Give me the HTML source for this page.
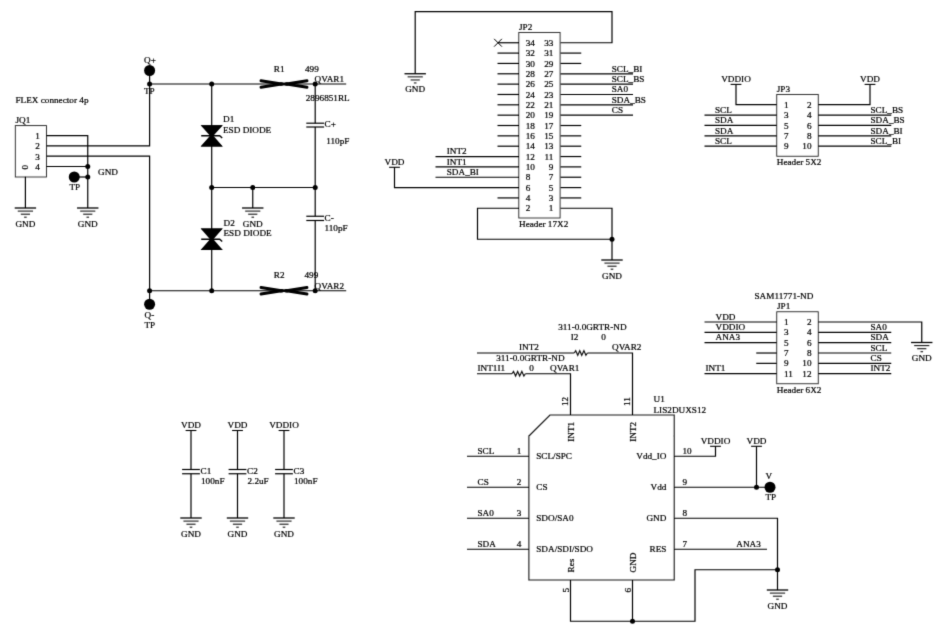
<!DOCTYPE html>
<html><head><meta charset="utf-8"><title>Schematic</title>
<style>
html,body{margin:0;padding:0;background:#fff;}
body{width:949px;height:642px;overflow:hidden;}
svg{display:block;}
svg text{font-family:"Liberation Serif",serif;font-size:9.2px;fill:#000;stroke:#000;stroke-width:0.22px;}
</style></head><body>
<svg width="949" height="642" viewBox="0 0 949 642">
<defs><filter id="soft" x="0" y="0" width="949" height="642" filterUnits="userSpaceOnUse"><feConvolveMatrix order="3" kernelMatrix="0.0144 0.0912 0.0144 0.0912 0.5776 0.0912 0.0144 0.0912 0.0144" divisor="1" edgeMode="none" preserveAlpha="false"/></filter></defs>
<rect width="949" height="642" fill="#fff"/>
<g filter="url(#soft)">
<text x="15.5" y="103">FLEX connector 4p</text>
<text x="15.5" y="123.3">JQ1</text>
<rect x="15.3" y="125.6" width="31.2" height="51.400000000000006" fill="none" stroke="#222" stroke-width="0.9"/>
<text x="35.3" y="139.1">1</text>
<text x="35.3" y="149.4">2</text>
<text x="35.3" y="159.7">3</text>
<text x="35.3" y="170.0">4</text>
<text x="27.6" y="169.6" transform="rotate(-90 27.6 169.6)">0</text>
<line x1="46.5" y1="135.6" x2="87.75" y2="135.6" stroke="#000" stroke-width="1.2"/>
<line x1="46.5" y1="166.5" x2="87.75" y2="166.5" stroke="#000" stroke-width="1.2"/>
<line x1="87.75" y1="135.1" x2="87.75" y2="208" stroke="#000" stroke-width="1.2"/>
<polyline points="46.5,145.9 149.6,145.9 149.6,84" fill="none" stroke="#000" stroke-width="1.2" />
<polyline points="46.5,156.2 149.6,156.2 149.6,290.75" fill="none" stroke="#000" stroke-width="1.2" />
<circle cx="87.75" cy="166.5" r="2.5" fill="#000"/>
<circle cx="87.75" cy="177" r="2.5" fill="#000"/>
<line x1="74.25" y1="177" x2="87.75" y2="177" stroke="#000" stroke-width="1.2"/>
<circle cx="74.25" cy="177" r="5.5" fill="#000"/>
<text x="69.5" y="190">TP</text>
<text x="98" y="175">GND</text>
<line x1="25.4" y1="176.7" x2="25.4" y2="208" stroke="#000" stroke-width="1.2"/>
<line x1="14.7" y1="208" x2="36.099999999999994" y2="208" stroke="#000" stroke-width="1.3"/>
<line x1="17.799999999999997" y1="211.1" x2="33.0" y2="211.1" stroke="#222" stroke-width="1.15"/>
<line x1="20.799999999999997" y1="214.2" x2="30.0" y2="214.2" stroke="#222" stroke-width="1.15"/>
<line x1="24.099999999999998" y1="217.2" x2="26.7" y2="217.2" stroke="#222" stroke-width="1.15"/>
<text x="25.4" y="226.6" text-anchor="middle">GND</text>
<line x1="77.05" y1="208" x2="98.45" y2="208" stroke="#000" stroke-width="1.3"/>
<line x1="80.15" y1="211.1" x2="95.35" y2="211.1" stroke="#222" stroke-width="1.15"/>
<line x1="83.15" y1="214.2" x2="92.35" y2="214.2" stroke="#222" stroke-width="1.15"/>
<line x1="86.45" y1="217.2" x2="89.05" y2="217.2" stroke="#222" stroke-width="1.15"/>
<text x="87.75" y="226.6" text-anchor="middle">GND</text>
<text x="144" y="62.5">Q+</text>
<circle cx="149.6" cy="70.5" r="5.5" fill="#000"/>
<line x1="149.6" y1="70.5" x2="149.6" y2="84" stroke="#000" stroke-width="1.2"/>
<circle cx="149.6" cy="84" r="2.5" fill="#000"/>
<text x="144" y="93.5">TP</text>
<line x1="149.6" y1="84" x2="346.2" y2="84" stroke="#000" stroke-width="1.2"/>
<circle cx="211.7" cy="84" r="2.5" fill="#000"/>
<circle cx="315.2" cy="84" r="2.5" fill="#000"/>
<line x1="211.7" y1="84" x2="211.7" y2="290.75" stroke="#000" stroke-width="1.2"/>
<polygon points="200.7,125.2 222.7,125.2 211.7,136.29999999999998 222.7,146.4 200.7,146.4 211.7,135.1" fill="#000"/>
<polygon points="200.7,125.2 222.7,125.2 213.39999999999998,135.7 222.7,146.4 200.7,146.4 210.0,135.7" fill="#000"/>
<polyline points="201.2,135.7 219.7,135.7 222.2,138.0" fill="none" stroke="#000" stroke-width="1.4" />
<polygon points="200.7,228.5 222.7,228.5 211.7,239.79999999999998 222.7,249.9 200.7,249.9 211.7,238.6" fill="#000"/>
<polygon points="200.7,228.5 222.7,228.5 213.39999999999998,239.2 222.7,249.9 200.7,249.9 210.0,239.2" fill="#000"/>
<polyline points="201.2,239.2 219.7,239.2 222.2,241.5" fill="none" stroke="#000" stroke-width="1.4" />
<text x="223" y="121.75">D1</text>
<text x="223" y="132.5">ESD DIODE</text>
<text x="223.5" y="225.75">D2</text>
<text x="223.5" y="235.75">ESD DIODE</text>
<circle cx="211.7" cy="187.5" r="2.5" fill="#000"/>
<circle cx="252.75" cy="187.5" r="2.5" fill="#000"/>
<circle cx="315.2" cy="187.5" r="2.5" fill="#000"/>
<line x1="211.7" y1="187.5" x2="315.2" y2="187.5" stroke="#000" stroke-width="1.2"/>
<line x1="252.75" y1="187.5" x2="252.75" y2="208" stroke="#000" stroke-width="1.2"/>
<line x1="242.05" y1="208" x2="263.45" y2="208" stroke="#000" stroke-width="1.3"/>
<line x1="245.15" y1="211.1" x2="260.35" y2="211.1" stroke="#222" stroke-width="1.15"/>
<line x1="248.15" y1="214.2" x2="257.35" y2="214.2" stroke="#222" stroke-width="1.15"/>
<line x1="251.45" y1="217.2" x2="254.05" y2="217.2" stroke="#222" stroke-width="1.15"/>
<text x="252.75" y="226.6" text-anchor="middle">GND</text>
<line x1="315.2" y1="84" x2="315.2" y2="123.2" stroke="#000" stroke-width="1.2"/>
<line x1="315.2" y1="127" x2="315.2" y2="216.25" stroke="#000" stroke-width="1.2"/>
<line x1="315.2" y1="220.5" x2="315.2" y2="290.75" stroke="#000" stroke-width="1.2"/>
<line x1="306.3" y1="123.2" x2="324.09999999999997" y2="123.2" stroke="#000" stroke-width="1.2"/>
<line x1="306.3" y1="127.0" x2="324.09999999999997" y2="127.0" stroke="#000" stroke-width="1.2"/>
<line x1="306.3" y1="216.25" x2="324.09999999999997" y2="216.25" stroke="#000" stroke-width="1.2"/>
<line x1="306.3" y1="220.5" x2="324.09999999999997" y2="220.5" stroke="#000" stroke-width="1.2"/>
<text x="324.5" y="127.0">C+</text>
<text x="326.25" y="143.75">110pF</text>
<text x="324.5" y="220.5">C-</text>
<text x="324.5" y="230.75">110pF</text>
<polyline points="261,80.7 281.4,84 261,87.3" fill="none" stroke="#000" stroke-width="2.9" stroke-linecap="round" stroke-linejoin="round"/>
<polyline points="307,80.7 286.6,84 307,87.3" fill="none" stroke="#000" stroke-width="2.9" stroke-linecap="round" stroke-linejoin="round"/>
<polyline points="280.6,84 282.4,84" fill="none" stroke="#000" stroke-width="3.4" stroke-linecap="round" stroke-linejoin="round"/>
<polyline points="285.6,84 287.4,84" fill="none" stroke="#000" stroke-width="3.4" stroke-linecap="round" stroke-linejoin="round"/>
<polyline points="283.0,84 285.0,84" fill="none" stroke="#000" stroke-width="2.6" />
<polyline points="261,287.45 281.4,290.75 261,294.05" fill="none" stroke="#000" stroke-width="2.9" stroke-linecap="round" stroke-linejoin="round"/>
<polyline points="307,287.45 286.6,290.75 307,294.05" fill="none" stroke="#000" stroke-width="2.9" stroke-linecap="round" stroke-linejoin="round"/>
<polyline points="280.6,290.75 282.4,290.75" fill="none" stroke="#000" stroke-width="3.4" stroke-linecap="round" stroke-linejoin="round"/>
<polyline points="285.6,290.75 287.4,290.75" fill="none" stroke="#000" stroke-width="3.4" stroke-linecap="round" stroke-linejoin="round"/>
<polyline points="283.0,290.75 285.0,290.75" fill="none" stroke="#000" stroke-width="2.6" />
<text x="273.75" y="71.75">R1</text>
<text x="305" y="71.75">499</text>
<text x="314.6" y="82">QVAR1</text>
<text x="305.75" y="100.75">2896851RL</text>
<text x="273.75" y="278">R2</text>
<text x="304.5" y="278">499</text>
<text x="314.6" y="289.25">QVAR2</text>
<line x1="149.6" y1="290.75" x2="346.2" y2="290.75" stroke="#000" stroke-width="1.2"/>
<circle cx="149.6" cy="290.75" r="2.5" fill="#000"/>
<circle cx="211.7" cy="290.75" r="2.5" fill="#000"/>
<circle cx="315.2" cy="290.75" r="2.5" fill="#000"/>
<line x1="149.6" y1="290.75" x2="149.6" y2="304.25" stroke="#000" stroke-width="1.2"/>
<circle cx="149.6" cy="304.25" r="5.5" fill="#000"/>
<text x="144.5" y="317.5">Q-</text>
<text x="144.5" y="327.5">TP</text>
<text x="519" y="30">JP2</text>
<rect x="518.8" y="32.5" width="41.30000000000007" height="185.5" fill="none" stroke="#222" stroke-width="0.9"/>
<text x="525.75" y="45.85">34</text>
<text x="553.4" y="45.85" text-anchor="end">33</text>
<text x="525.75" y="56.195">32</text>
<text x="553.4" y="56.195" text-anchor="end">31</text>
<text x="525.75" y="66.53999999999999">30</text>
<text x="553.4" y="66.53999999999999" text-anchor="end">29</text>
<text x="525.75" y="76.88499999999999">28</text>
<text x="553.4" y="76.88499999999999" text-anchor="end">27</text>
<text x="525.75" y="87.22999999999999">26</text>
<text x="553.4" y="87.22999999999999" text-anchor="end">25</text>
<text x="525.75" y="97.57499999999999">24</text>
<text x="553.4" y="97.57499999999999" text-anchor="end">23</text>
<text x="525.75" y="107.92">22</text>
<text x="553.4" y="107.92" text-anchor="end">21</text>
<text x="525.75" y="118.265">20</text>
<text x="553.4" y="118.265" text-anchor="end">19</text>
<text x="525.75" y="128.61">18</text>
<text x="553.4" y="128.61" text-anchor="end">17</text>
<text x="525.75" y="138.955">16</text>
<text x="553.4" y="138.955" text-anchor="end">15</text>
<text x="525.75" y="149.29999999999998">14</text>
<text x="553.4" y="149.29999999999998" text-anchor="end">13</text>
<text x="525.75" y="159.645">12</text>
<text x="553.4" y="159.645" text-anchor="end">11</text>
<text x="525.75" y="169.99">10</text>
<text x="553.4" y="169.99" text-anchor="end">9</text>
<text x="525.75" y="180.335">8</text>
<text x="553.4" y="180.335" text-anchor="end">7</text>
<text x="525.75" y="190.68">6</text>
<text x="553.4" y="190.68" text-anchor="end">5</text>
<text x="525.75" y="201.025">4</text>
<text x="553.4" y="201.025" text-anchor="end">3</text>
<text x="525.75" y="211.37">2</text>
<text x="553.4" y="211.37" text-anchor="end">1</text>
<line x1="497.5" y1="53.095" x2="519" y2="53.095" stroke="#000" stroke-width="1.2"/>
<line x1="497.5" y1="63.44" x2="519" y2="63.44" stroke="#000" stroke-width="1.2"/>
<line x1="497.5" y1="73.785" x2="519" y2="73.785" stroke="#000" stroke-width="1.2"/>
<line x1="497.5" y1="84.13" x2="519" y2="84.13" stroke="#000" stroke-width="1.2"/>
<line x1="497.5" y1="94.475" x2="519" y2="94.475" stroke="#000" stroke-width="1.2"/>
<line x1="497.5" y1="104.82000000000001" x2="519" y2="104.82000000000001" stroke="#000" stroke-width="1.2"/>
<line x1="497.5" y1="115.165" x2="519" y2="115.165" stroke="#000" stroke-width="1.2"/>
<line x1="497.5" y1="125.51" x2="519" y2="125.51" stroke="#000" stroke-width="1.2"/>
<line x1="497.5" y1="135.85500000000002" x2="519" y2="135.85500000000002" stroke="#000" stroke-width="1.2"/>
<line x1="497.5" y1="146.2" x2="519" y2="146.2" stroke="#000" stroke-width="1.2"/>
<line x1="497.5" y1="197.925" x2="519" y2="197.925" stroke="#000" stroke-width="1.2"/>
<line x1="498" y1="42.75" x2="519" y2="42.75" stroke="#000" stroke-width="1.2"/>
<line x1="494.1" y1="38.85" x2="501.9" y2="46.65" stroke="#000" stroke-width="1.0"/>
<line x1="494.1" y1="46.65" x2="501.9" y2="38.85" stroke="#000" stroke-width="1.0"/>
<line x1="560.5" y1="53.095" x2="581.25" y2="53.095" stroke="#000" stroke-width="1.2"/>
<line x1="560.5" y1="63.44" x2="581.25" y2="63.44" stroke="#000" stroke-width="1.2"/>
<line x1="560.5" y1="125.51" x2="581.25" y2="125.51" stroke="#000" stroke-width="1.2"/>
<line x1="560.5" y1="135.85500000000002" x2="581.25" y2="135.85500000000002" stroke="#000" stroke-width="1.2"/>
<line x1="560.5" y1="146.2" x2="581.25" y2="146.2" stroke="#000" stroke-width="1.2"/>
<line x1="560.5" y1="156.54500000000002" x2="581.25" y2="156.54500000000002" stroke="#000" stroke-width="1.2"/>
<line x1="560.5" y1="166.89000000000001" x2="581.25" y2="166.89000000000001" stroke="#000" stroke-width="1.2"/>
<line x1="560.5" y1="177.235" x2="581.25" y2="177.235" stroke="#000" stroke-width="1.2"/>
<line x1="560.5" y1="187.58" x2="581.25" y2="187.58" stroke="#000" stroke-width="1.2"/>
<line x1="560.5" y1="197.925" x2="581.25" y2="197.925" stroke="#000" stroke-width="1.2"/>
<line x1="560.5" y1="73.785" x2="633" y2="73.785" stroke="#000" stroke-width="1.2"/>
<text x="611.75" y="71.585">SCL_BI</text>
<line x1="560.5" y1="84.13" x2="633" y2="84.13" stroke="#000" stroke-width="1.2"/>
<text x="611.75" y="81.92999999999999">SCL_BS</text>
<line x1="560.5" y1="94.475" x2="633" y2="94.475" stroke="#000" stroke-width="1.2"/>
<text x="611.75" y="92.27499999999999">SA0</text>
<line x1="560.5" y1="104.82000000000001" x2="633" y2="104.82000000000001" stroke="#000" stroke-width="1.2"/>
<text x="611.75" y="102.62">SDA_BS</text>
<line x1="560.5" y1="115.165" x2="633" y2="115.165" stroke="#000" stroke-width="1.2"/>
<text x="611.75" y="112.965">CS</text>
<polyline points="560.5,42.75 612,42.75 612,11.6 415.2,11.6 415.2,73.75" fill="none" stroke="#000" stroke-width="1.2" />
<line x1="404.5" y1="73.75" x2="425.9" y2="73.75" stroke="#000" stroke-width="1.3"/>
<line x1="407.59999999999997" y1="76.85" x2="422.8" y2="76.85" stroke="#222" stroke-width="1.15"/>
<line x1="410.59999999999997" y1="79.95" x2="419.8" y2="79.95" stroke="#222" stroke-width="1.15"/>
<line x1="413.9" y1="82.95" x2="416.5" y2="82.95" stroke="#222" stroke-width="1.15"/>
<text x="415.2" y="92.35" text-anchor="middle">GND</text>
<line x1="435.5" y1="156.54500000000002" x2="519" y2="156.54500000000002" stroke="#000" stroke-width="1.2"/>
<text x="446.75" y="154.34500000000003">INT2</text>
<line x1="435.5" y1="166.89000000000001" x2="519" y2="166.89000000000001" stroke="#000" stroke-width="1.2"/>
<text x="446.75" y="164.69000000000003">INT1</text>
<line x1="435.5" y1="177.235" x2="519" y2="177.235" stroke="#000" stroke-width="1.2"/>
<text x="446.75" y="175.03500000000003">SDA_BI</text>
<polyline points="519,187.58 394.5,187.58 394.5,167.3" fill="none" stroke="#000" stroke-width="1.2" />
<line x1="389.1" y1="167.3" x2="399.9" y2="167.3" stroke="#000" stroke-width="1.1"/>
<text x="394.5" y="164.8" text-anchor="middle">VDD</text>
<polyline points="519,208.27 477.5,208.27 477.5,239.25 612,239.25" fill="none" stroke="#000" stroke-width="1.2" />
<polyline points="560.5,208.27 612,208.27 612,260" fill="none" stroke="#000" stroke-width="1.2" />
<circle cx="612" cy="239.25" r="2.5" fill="#000"/>
<line x1="601.3" y1="260" x2="622.7" y2="260" stroke="#000" stroke-width="1.3"/>
<line x1="604.4" y1="263.1" x2="619.6" y2="263.1" stroke="#222" stroke-width="1.15"/>
<line x1="607.4" y1="266.2" x2="616.6" y2="266.2" stroke="#222" stroke-width="1.15"/>
<line x1="610.7" y1="269.2" x2="613.3" y2="269.2" stroke="#222" stroke-width="1.15"/>
<text x="612" y="278.6" text-anchor="middle">GND</text>
<text x="519" y="227">Header 17X2</text>
<text x="776.75" y="92">JP3</text>
<rect x="776.75" y="94.5" width="41.5" height="61.75" fill="none" stroke="#222" stroke-width="0.9"/>
<text x="784.1" y="107.8">1</text>
<text x="811.5" y="107.8" text-anchor="end">2</text>
<text x="784.1" y="118.17">3</text>
<text x="811.5" y="118.17" text-anchor="end">4</text>
<text x="784.1" y="128.54">5</text>
<text x="811.5" y="128.54" text-anchor="end">6</text>
<text x="784.1" y="138.91">7</text>
<text x="811.5" y="138.91" text-anchor="end">8</text>
<text x="784.1" y="149.28">9</text>
<text x="811.5" y="149.28" text-anchor="end">10</text>
<polyline points="776.75,104.7 736,104.7 736,84.4" fill="none" stroke="#000" stroke-width="1.2" />
<line x1="730.6" y1="84.4" x2="741.4" y2="84.4" stroke="#000" stroke-width="1.1"/>
<text x="736" y="81.9" text-anchor="middle">VDDIO</text>
<polyline points="818.25,104.7 870,104.7 870,84.4" fill="none" stroke="#000" stroke-width="1.2" />
<line x1="864.6" y1="84.4" x2="875.4" y2="84.4" stroke="#000" stroke-width="1.1"/>
<text x="870" y="81.9" text-anchor="middle">VDD</text>
<line x1="704.5" y1="115.07000000000001" x2="776.75" y2="115.07000000000001" stroke="#000" stroke-width="1.2"/>
<text x="715" y="112.87">SCL</text>
<line x1="818.25" y1="115.07000000000001" x2="891.25" y2="115.07000000000001" stroke="#000" stroke-width="1.2"/>
<text x="870.5" y="112.87">SCL_BS</text>
<line x1="704.5" y1="125.44" x2="776.75" y2="125.44" stroke="#000" stroke-width="1.2"/>
<text x="715" y="123.24">SDA</text>
<line x1="818.25" y1="125.44" x2="891.25" y2="125.44" stroke="#000" stroke-width="1.2"/>
<text x="870.5" y="123.24">SDA_BS</text>
<line x1="704.5" y1="135.81" x2="776.75" y2="135.81" stroke="#000" stroke-width="1.2"/>
<text x="715" y="133.61">SDA</text>
<line x1="818.25" y1="135.81" x2="891.25" y2="135.81" stroke="#000" stroke-width="1.2"/>
<text x="870.5" y="133.61">SDA_BI</text>
<line x1="704.5" y1="146.18" x2="776.75" y2="146.18" stroke="#000" stroke-width="1.2"/>
<text x="715" y="143.98000000000002">SCL</text>
<line x1="818.25" y1="146.18" x2="891.25" y2="146.18" stroke="#000" stroke-width="1.2"/>
<text x="870.5" y="143.98000000000002">SCL_BI</text>
<text x="776.75" y="164.5">Header 5X2</text>
<text x="754.5" y="298.75">SAM11771-ND</text>
<text x="777" y="309.25">JP1</text>
<rect x="776.75" y="311.75" width="41.5" height="72.0" fill="none" stroke="#222" stroke-width="0.9"/>
<text x="784.1" y="325.1">1</text>
<text x="811.5" y="325.1" text-anchor="end">2</text>
<text x="784.1" y="335.44">3</text>
<text x="811.5" y="335.44" text-anchor="end">4</text>
<text x="784.1" y="345.78000000000003">5</text>
<text x="811.5" y="345.78000000000003" text-anchor="end">6</text>
<text x="784.1" y="356.12">7</text>
<text x="811.5" y="356.12" text-anchor="end">8</text>
<text x="784.1" y="366.46000000000004">9</text>
<text x="811.5" y="366.46000000000004" text-anchor="end">10</text>
<text x="784.1" y="376.8">11</text>
<text x="811.5" y="376.8" text-anchor="end">12</text>
<line x1="704.5" y1="322.0" x2="776.75" y2="322.0" stroke="#000" stroke-width="1.2"/>
<text x="715.5" y="319.6">VDD</text>
<line x1="704.5" y1="332.34" x2="776.75" y2="332.34" stroke="#000" stroke-width="1.2"/>
<text x="715.5" y="329.94">VDDIO</text>
<line x1="704.5" y1="342.68" x2="776.75" y2="342.68" stroke="#000" stroke-width="1.2"/>
<text x="715.5" y="340.28000000000003">ANA3</text>
<line x1="756.25" y1="353.02" x2="776.75" y2="353.02" stroke="#000" stroke-width="1.2"/>
<line x1="756.25" y1="363.36" x2="776.75" y2="363.36" stroke="#000" stroke-width="1.2"/>
<line x1="704.5" y1="373.7" x2="776.75" y2="373.7" stroke="#000" stroke-width="1.2"/>
<text x="705.5" y="371.3">INT1</text>
<polyline points="818.25,322.0 921.75,322.0 921.75,342.5" fill="none" stroke="#000" stroke-width="1.2" />
<line x1="911.05" y1="342.5" x2="932.45" y2="342.5" stroke="#000" stroke-width="1.3"/>
<line x1="914.15" y1="345.6" x2="929.35" y2="345.6" stroke="#222" stroke-width="1.15"/>
<line x1="917.15" y1="348.7" x2="926.35" y2="348.7" stroke="#222" stroke-width="1.15"/>
<line x1="920.45" y1="351.7" x2="923.05" y2="351.7" stroke="#222" stroke-width="1.15"/>
<text x="921.75" y="361.1" text-anchor="middle">GND</text>
<line x1="818.25" y1="332.34" x2="891.25" y2="332.34" stroke="#000" stroke-width="1.2"/>
<text x="870.5" y="329.94">SA0</text>
<line x1="818.25" y1="342.68" x2="891.25" y2="342.68" stroke="#000" stroke-width="1.2"/>
<text x="870.5" y="340.28000000000003">SDA</text>
<line x1="818.25" y1="353.02" x2="891.25" y2="353.02" stroke="#000" stroke-width="1.2"/>
<text x="870.5" y="350.62">SCL</text>
<line x1="818.25" y1="363.36" x2="891.25" y2="363.36" stroke="#000" stroke-width="1.2"/>
<text x="870.5" y="360.96000000000004">CS</text>
<line x1="818.25" y1="373.7" x2="891.25" y2="373.7" stroke="#000" stroke-width="1.2"/>
<text x="870.5" y="371.3">INT2</text>
<text x="776.75" y="392.5">Header 6X2</text>
<polygon points="528.9,436 550,415 674.2,415 674.2,580 528.9,580" fill="none" stroke="#111" stroke-width="1.1"/>
<text x="653.5" y="402">U1</text>
<text x="653.5" y="412.5">LIS2DUXS12</text>
<line x1="467" y1="456.25" x2="528.9" y2="456.25" stroke="#000" stroke-width="1.2"/>
<text x="477.5" y="453.75">SCL</text>
<text x="516.8" y="453.75">1</text>
<text x="536.25" y="459.25">SCL/SPC</text>
<line x1="467" y1="487.25" x2="528.9" y2="487.25" stroke="#000" stroke-width="1.2"/>
<text x="477.5" y="484.75">CS</text>
<text x="516.8" y="484.75">2</text>
<text x="536.25" y="490.25">CS</text>
<line x1="467" y1="518.25" x2="528.9" y2="518.25" stroke="#000" stroke-width="1.2"/>
<text x="477.5" y="515.75">SA0</text>
<text x="516.8" y="515.75">3</text>
<text x="536.25" y="521.25">SDO/SA0</text>
<line x1="467" y1="549.25" x2="528.9" y2="549.25" stroke="#000" stroke-width="1.2"/>
<text x="477.5" y="546.75">SDA</text>
<text x="516.8" y="546.75">4</text>
<text x="536.25" y="552.25">SDA/SDI/SDO</text>
<text x="666.4" y="459.25" text-anchor="end">Vdd_IO</text>
<text x="682.5" y="453.75">10</text>
<text x="666.4" y="490.25" text-anchor="end">Vdd</text>
<text x="682.5" y="484.75">9</text>
<text x="666.4" y="521.25" text-anchor="end">GND</text>
<text x="682.5" y="515.75">8</text>
<text x="666.4" y="552.25" text-anchor="end">RES</text>
<text x="682.5" y="546.75">7</text>
<polyline points="674.2,456.25 715.5,456.25 715.5,446.3" fill="none" stroke="#000" stroke-width="1.2" />
<line x1="710.1" y1="446.3" x2="720.9" y2="446.3" stroke="#000" stroke-width="1.1"/>
<text x="715.5" y="443.8" text-anchor="middle">VDDIO</text>
<line x1="674.2" y1="487.25" x2="770" y2="487.25" stroke="#000" stroke-width="1.2"/>
<circle cx="756.5" cy="487.25" r="2.5" fill="#000"/>
<line x1="756.5" y1="487.25" x2="756.5" y2="446.3" stroke="#000" stroke-width="1.2"/>
<line x1="751.1" y1="446.3" x2="761.9" y2="446.3" stroke="#000" stroke-width="1.1"/>
<text x="756.5" y="443.8" text-anchor="middle">VDD</text>
<circle cx="770" cy="487.25" r="5.5" fill="#000"/>
<text x="765.5" y="478.75">V</text>
<text x="765.5" y="500.0">TP</text>
<polyline points="674.2,518.25 777.5,518.25 777.5,590" fill="none" stroke="#000" stroke-width="1.2" />
<line x1="766.8" y1="590" x2="788.2" y2="590" stroke="#000" stroke-width="1.3"/>
<line x1="769.9" y1="593.1" x2="785.1" y2="593.1" stroke="#222" stroke-width="1.15"/>
<line x1="772.9" y1="596.2" x2="782.1" y2="596.2" stroke="#222" stroke-width="1.15"/>
<line x1="776.2" y1="599.2" x2="778.8" y2="599.2" stroke="#222" stroke-width="1.15"/>
<text x="777.5" y="608.6" text-anchor="middle">GND</text>
<circle cx="777.5" cy="569.75" r="2.5" fill="#000"/>
<line x1="674.2" y1="549.25" x2="767" y2="549.25" stroke="#000" stroke-width="1.2"/>
<text x="736.25" y="546.75">ANA3</text>
<polyline points="570.5,580 570.5,621.25 695,621.25 695,569.75 777.5,569.75" fill="none" stroke="#000" stroke-width="1.2" />
<line x1="632.5" y1="580" x2="632.5" y2="621.25" stroke="#000" stroke-width="1.2"/>
<circle cx="632.5" cy="621.25" r="2.5" fill="#000"/>
<text x="573.75" y="572.5" transform="rotate(-90 573.75 572.5)">Res</text>
<text x="636.25" y="572.5" transform="rotate(-90 636.25 572.5)">GND</text>
<text x="568.75" y="592.5" transform="rotate(-90 568.75 592.5)">5</text>
<text x="630.75" y="592.5" transform="rotate(-90 630.75 592.5)">6</text>
<line x1="477" y1="373.75" x2="512" y2="373.75" stroke="#000" stroke-width="1.2"/>
<polyline points="512,373.75 513.51,371.45 515.63,376.05 517.64,371.45 519.66,376.05 521.87,371.45 523.89,376.05 525.4,373.75" fill="none" stroke="#111" stroke-width="1.15" stroke-linejoin="miter"/>
<polyline points="525.4,373.75 570.5,373.75 570.5,415" fill="none" stroke="#000" stroke-width="1.2" />
<line x1="477" y1="353" x2="574.2" y2="353" stroke="#000" stroke-width="1.2"/>
<polyline points="574.2,353 575.69,350.7 577.77,355.3 579.76,350.7 581.74,355.3 583.93,350.7 585.91,355.3 587.4,353" fill="none" stroke="#111" stroke-width="1.15" stroke-linejoin="miter"/>
<polyline points="587.4,353 632.5,353 632.5,415" fill="none" stroke="#000" stroke-width="1.2" />
<text x="573.75" y="441.8" transform="rotate(-90 573.75 441.8)">INT1</text>
<text x="635.75" y="441.8" transform="rotate(-90 635.75 441.8)">INT2</text>
<text x="568" y="406.1" transform="rotate(-90 568 406.1)">12</text>
<text x="630.5" y="406.1" transform="rotate(-90 630.5 406.1)">11</text>
<text x="558.25" y="329.5">311-0.0GRTR-ND</text>
<text x="570.75" y="340">I2</text>
<text x="601.25" y="340">0</text>
<text x="519" y="350">INT2</text>
<text x="612" y="350">QVAR2</text>
<text x="496.25" y="360.5">311-0.0GRTR-ND</text>
<text x="477.5" y="370.5">INT1I1</text>
<text x="529.25" y="370.5">0</text>
<text x="550" y="370.5">QVAR1</text>
<line x1="185.6" y1="430.5" x2="196.4" y2="430.5" stroke="#000" stroke-width="1.1"/>
<text x="191" y="428.0" text-anchor="middle">VDD</text>
<line x1="191" y1="430.5" x2="191" y2="469.5" stroke="#000" stroke-width="1.2"/>
<line x1="191" y1="473.75" x2="191" y2="518" stroke="#000" stroke-width="1.2"/>
<line x1="182.1" y1="469.5" x2="199.9" y2="469.5" stroke="#000" stroke-width="1.2"/>
<line x1="182.1" y1="473.75" x2="199.9" y2="473.75" stroke="#000" stroke-width="1.2"/>
<text x="200.5" y="473.75">C1</text>
<text x="201" y="483.75">100nF</text>
<line x1="180.3" y1="518" x2="201.7" y2="518" stroke="#000" stroke-width="1.3"/>
<line x1="183.4" y1="521.1" x2="198.6" y2="521.1" stroke="#222" stroke-width="1.15"/>
<line x1="186.4" y1="524.2" x2="195.6" y2="524.2" stroke="#222" stroke-width="1.15"/>
<line x1="189.7" y1="527.2" x2="192.3" y2="527.2" stroke="#222" stroke-width="1.15"/>
<text x="191" y="536.6" text-anchor="middle">GND</text>
<line x1="232.1" y1="430.5" x2="242.9" y2="430.5" stroke="#000" stroke-width="1.1"/>
<text x="237.5" y="428.0" text-anchor="middle">VDD</text>
<line x1="237.5" y1="430.5" x2="237.5" y2="469.5" stroke="#000" stroke-width="1.2"/>
<line x1="237.5" y1="473.75" x2="237.5" y2="518" stroke="#000" stroke-width="1.2"/>
<line x1="228.6" y1="469.5" x2="246.4" y2="469.5" stroke="#000" stroke-width="1.2"/>
<line x1="228.6" y1="473.75" x2="246.4" y2="473.75" stroke="#000" stroke-width="1.2"/>
<text x="247.0" y="473.75">C2</text>
<text x="247.5" y="483.75">2.2uF</text>
<line x1="226.8" y1="518" x2="248.2" y2="518" stroke="#000" stroke-width="1.3"/>
<line x1="229.9" y1="521.1" x2="245.1" y2="521.1" stroke="#222" stroke-width="1.15"/>
<line x1="232.9" y1="524.2" x2="242.1" y2="524.2" stroke="#222" stroke-width="1.15"/>
<line x1="236.2" y1="527.2" x2="238.8" y2="527.2" stroke="#222" stroke-width="1.15"/>
<text x="237.5" y="536.6" text-anchor="middle">GND</text>
<line x1="278.6" y1="430.5" x2="289.4" y2="430.5" stroke="#000" stroke-width="1.1"/>
<text x="284" y="428.0" text-anchor="middle">VDDIO</text>
<line x1="284" y1="430.5" x2="284" y2="469.5" stroke="#000" stroke-width="1.2"/>
<line x1="284" y1="473.75" x2="284" y2="518" stroke="#000" stroke-width="1.2"/>
<line x1="275.1" y1="469.5" x2="292.9" y2="469.5" stroke="#000" stroke-width="1.2"/>
<line x1="275.1" y1="473.75" x2="292.9" y2="473.75" stroke="#000" stroke-width="1.2"/>
<text x="293.5" y="473.75">C3</text>
<text x="294" y="483.75">100nF</text>
<line x1="273.3" y1="518" x2="294.7" y2="518" stroke="#000" stroke-width="1.3"/>
<line x1="276.4" y1="521.1" x2="291.6" y2="521.1" stroke="#222" stroke-width="1.15"/>
<line x1="279.4" y1="524.2" x2="288.6" y2="524.2" stroke="#222" stroke-width="1.15"/>
<line x1="282.7" y1="527.2" x2="285.3" y2="527.2" stroke="#222" stroke-width="1.15"/>
<text x="284" y="536.6" text-anchor="middle">GND</text>
</g>
</svg>
</body></html>
